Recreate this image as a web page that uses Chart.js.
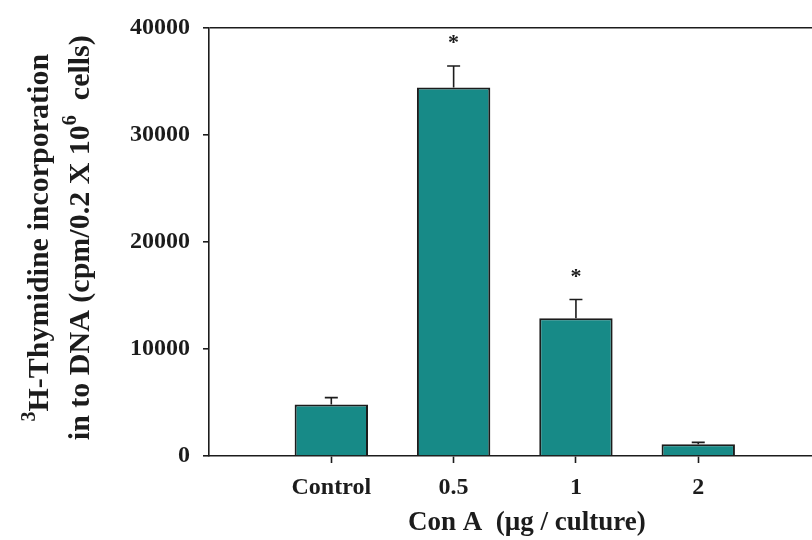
<!DOCTYPE html>
<html>
<head>
<meta charset="utf-8">
<script src="https://cdn.jsdelivr.net/npm/chart.js@4/dist/chart.umd.min.js"></script>
<style>
  html, body { margin: 0; padding: 0; background: #ffffff; overflow: hidden; }
  #wrap { width: 812px; height: 540px; position: relative; }
</style>
</head>
<body>
<div id="wrap"><canvas id="c" width="812" height="540"></canvas></div>
<script>
// Con A dose groups and 3H-thymidine uptake (mean ± SEM)
const categories = ['Control', '0.5', '1', '2'];
const meanCpm = [4800, 34400, 12850, 1100];
const semCpm = [650, 2000, 1750, 170];
const significant = [false, true, true, false];
const yTicks = [0, 10000, 20000, 30000, 40000];
const xTitle = 'Con A  (\u00b5g / culture)';
// y-axis title, split into plain and superscript runs
const yTitleLines = [
  [{ sup: '3' }, { t: 'H-Thymidine incorporation' }],
  [{ t: 'in to DNA (cpm/0.2 X 10' }, { sup: '6' }, { t: '  cells)' }]
];

const SERIF = '"Liberation Serif", "Times New Roman", serif';
const INK = '#1c1c1c';
const TEAL = '#178a87';

const errorBars = {
  id: 'errorBars',
  afterDatasetsDraw(chart) {
    const ctx = chart.ctx;
    const y = chart.scales.y;
    const meta = chart.getDatasetMeta(0);
    ctx.save();
    ctx.strokeStyle = INK;
    ctx.lineWidth = 1.6;
    ctx.fillStyle = INK;
    ctx.font = 'bold 22px ' + SERIF;
    ctx.textAlign = 'center';
    ctx.textBaseline = 'alphabetic';
    meta.data.forEach((bar, i) => {
      const top = y.getPixelForValue(meanCpm[i]);
      const end = y.getPixelForValue(meanCpm[i] + semCpm[i]);
      ctx.beginPath();
      ctx.moveTo(bar.x, top);
      ctx.lineTo(bar.x, end);
      ctx.moveTo(bar.x - 6.5, end);
      ctx.lineTo(bar.x + 6.5, end);
      ctx.stroke();
      if (significant[i]) {
        ctx.fillText('*', bar.x, end - 17);
      }
    });
    ctx.restore();
  }
};

const axisTitles = {
  id: 'axisTitles',
  afterDraw(chart) {
    const ctx = chart.ctx;
    const area = chart.chartArea;
    const xs = chart.scales.x;
    ctx.save();
    ctx.fillStyle = INK;

    // x title
    ctx.font = 'bold 27px ' + SERIF;
    ctx.textAlign = 'center';
    ctx.textBaseline = 'alphabetic';
    const cx = (xs.getPixelForValue(1) + xs.getPixelForValue(categories.length)) / 2 + 12;
    ctx.fillText(xTitle, cx, 530);

    // y title, rotated, two lines
    const mainSize = 30, supSize = 20, raise = 13;
    const cy = (area.top + area.bottom) / 2 - 4;
    const baselines = [48, 89];
    ctx.textAlign = 'left';
    yTitleLines.forEach((runs, li) => {
      let total = 0;
      runs.forEach(r => {
        ctx.font = 'bold ' + (r.sup ? supSize : mainSize) + 'px ' + SERIF;
        total += ctx.measureText(r.sup || r.t).width;
      });
      ctx.save();
      ctx.translate(baselines[li], cy);
      ctx.rotate(-Math.PI / 2);
      let pos = -total / 2;
      runs.forEach(r => {
        const s = r.sup || r.t;
        ctx.font = 'bold ' + (r.sup ? supSize : mainSize) + 'px ' + SERIF;
        ctx.fillText(s, pos, r.sup ? -raise : 0);
        pos += ctx.measureText(s).width;
      });
      ctx.restore();
    });
    ctx.restore();
  }
};

new Chart(document.getElementById('c'), {
  type: 'bar',
  data: {
    datasets: [{
      data: categories.map((c, i) => ({ x: i + 1, y: meanCpm[i] })),
      backgroundColor: TEAL,
      borderColor: INK,
      borderWidth: 2,
      barPercentage: 0.6,
      categoryPercentage: 1
    }]
  },
  options: {
    responsive: false,
    animation: false,
    devicePixelRatio: 1,
    layout: { padding: { top: 23, right: 0, bottom: 0, left: 0 } },
    plugins: { legend: { display: false }, tooltip: { enabled: false } },
    scales: {
      x: {
        type: 'linear',
        offset: false,
        min: 0,
        max: 4.93,
        afterBuildTicks(scale) { scale.ticks = categories.map((c, i) => ({ value: i + 1 })); },
        afterFit(scale) { scale.height = 84; },
        ticks: {
          callback: (v) => categories[Math.round(v) - 1],
          font: { family: SERIF, size: 24, weight: 'bold' },
          color: INK,
          padding: 10,
          maxRotation: 0,
          autoSkip: false
        },
        grid: { offset: false, drawOnChartArea: false, drawTicks: true, tickLength: 7, tickColor: INK, tickWidth: 1.6 },
        border: { display: true, color: INK, width: 1.6 }
      },
      y: {
        min: 0,
        max: 40000,
        afterBuildTicks(scale) { scale.ticks = yTicks.map(v => ({ value: v })); },
        afterFit(scale) { scale.width = 209; },
        ticks: {
          callback: (v) => String(v),
          font: { family: SERIF, size: 24, weight: 'bold' },
          color: INK,
          padding: 13
        },
        grid: {
          drawOnChartArea: true,
          drawTicks: true,
          tickLength: 6,
          color: (c) => (c.tick && c.tick.value === 40000 ? INK : 'rgba(0,0,0,0)'),
          lineWidth: 1.6,
          tickColor: INK,
          tickWidth: 1.6
        },
        border: { display: true, color: INK, width: 1.6 }
      }
    }
  },
  plugins: [errorBars, axisTitles]
});
</script>
</body>
</html>
